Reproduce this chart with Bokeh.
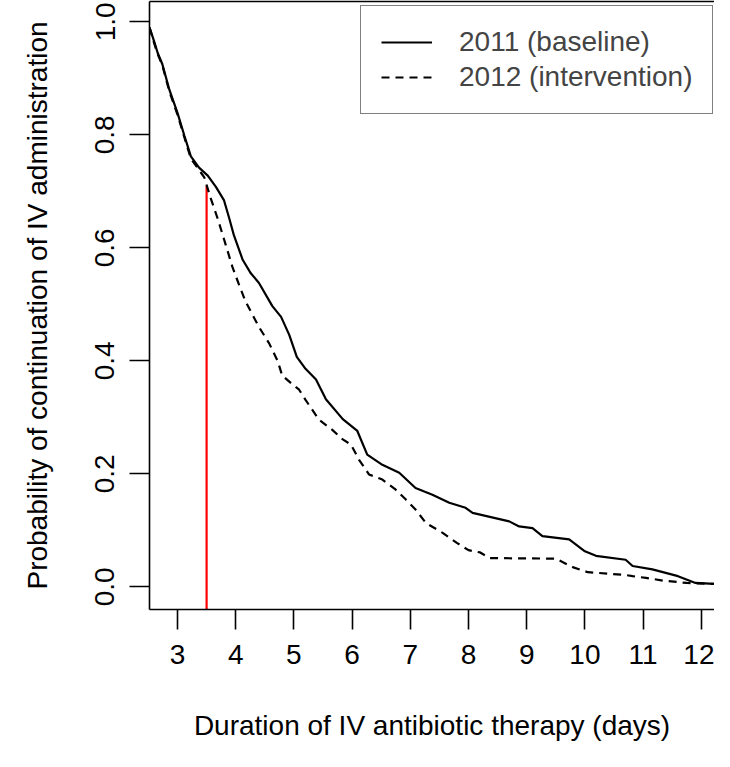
from bokeh.plotting import figure
from bokeh.models import (Range1d, FixedTicker, PrintfTickFormatter, LinearAxis,
                          Legend, LegendItem)
from bokeh.embed import file_html
from bokeh.resources import INLINE

# ---- data ----
t_2011 = [2.52, 2.60, 2.66, 2.74, 2.86, 3.00, 3.12, 3.23, 3.37, 3.52, 3.66, 3.80,
          3.89, 3.97, 4.12, 4.26, 4.40, 4.63, 4.78, 4.92, 5.05, 5.20, 5.38, 5.55,
          5.84, 6.09, 6.26, 6.52, 6.81, 7.09, 7.38, 7.67, 7.95, 8.07, 8.70, 8.87,
          9.10, 9.27, 9.73, 10.00, 10.19, 10.70, 10.82, 11.16, 11.60, 11.90, 12.30]
s_2011 = [0.990, 0.965, 0.945, 0.925, 0.880, 0.839, 0.798, 0.762, 0.742, 0.728, 0.708, 0.684,
          0.652, 0.622, 0.579, 0.555, 0.538, 0.497, 0.478, 0.446, 0.407, 0.386, 0.367, 0.332,
          0.297, 0.276, 0.234, 0.216, 0.202, 0.175, 0.163, 0.149, 0.140, 0.131, 0.116, 0.107,
          0.104, 0.090, 0.084, 0.063, 0.055, 0.048, 0.037, 0.031, 0.019, 0.007, 0.005]

t_2012 = [2.52, 2.60, 2.66, 2.74, 2.86, 3.00, 3.12, 3.23, 3.37, 3.46, 3.57, 3.69,
          3.83, 3.945, 4.06, 4.17, 4.40, 4.575, 4.72, 4.80, 4.98, 5.09, 5.20, 5.43,
          5.66, 5.84, 5.98, 6.12, 6.29, 6.52, 6.75, 6.92, 7.09, 7.27, 7.55, 7.80,
          8.00, 8.20, 8.36, 9.50, 9.79, 10.05, 10.19, 10.70, 10.82, 11.05, 11.35, 11.75, 12.30]
s_2012 = [0.990, 0.962, 0.943, 0.923, 0.877, 0.836, 0.795, 0.758, 0.738, 0.725, 0.688, 0.652,
          0.605, 0.566, 0.534, 0.505, 0.460, 0.431, 0.400, 0.374, 0.358, 0.349, 0.331, 0.296,
          0.278, 0.261, 0.252, 0.225, 0.199, 0.190, 0.172, 0.155, 0.137, 0.113, 0.096, 0.078,
          0.065, 0.061, 0.051, 0.050, 0.035, 0.026, 0.025, 0.021, 0.019, 0.016, 0.011, 0.007, 0.005]

marker_day = [3.5]
marker_top = [0.71]

x_ticks = [3, 4, 5, 6, 7, 8, 9, 10, 11, 12]
y_ticks = [0.0, 0.2, 0.4, 0.6, 0.8, 1.0]

series_labels = ["2011 (baseline)", "2012 (intervention)"]
x_title = "Duration of IV antibiotic therapy (days)"
y_title = "Probability of continuation of IV administration"

FONT = "Liberation Sans"
FS = "28px"

p = figure(width=714, height=751, output_backend="svg", toolbar_location=None,
           x_range=Range1d(2.519, 12.227), y_range=Range1d(-0.04, 1.0361),
           min_border_left=149, min_border_right=0, min_border_top=1,
           min_border_bottom=142)
p.outline_line_color = None
p.grid.grid_line_color = None

# red marker line
p.segment(x0=marker_day, y0=[-0.05], x1=marker_day, y1=marker_top,
          line_color="#ff0000", line_width=2.2)

r1 = p.line(t_2011, s_2011, line_color="black", line_width=2.2)
r2 = p.line(t_2012, s_2012, line_color="black", line_width=2.2, line_dash="8 6")

for ax in (p.xaxis[0], p.yaxis[0]):
    ax.minor_tick_line_color = None
    ax.major_tick_out = 20
    ax.major_tick_in = 0
    ax.axis_line_width = 1.6
    ax.major_tick_line_width = 1.6
    ax.axis_line_color = "black"
    ax.major_tick_line_color = "black"
    ax.major_label_text_font = FONT
    ax.major_label_text_font_size = FS
    ax.major_label_text_color = "black"
    ax.axis_label_text_font = FONT
    ax.axis_label_text_font_size = FS
    ax.axis_label_text_font_style = "normal"
    ax.axis_label_text_color = "black"

p.xaxis.ticker = FixedTicker(ticks=x_ticks)
p.xaxis.axis_label = x_title
p.xaxis.major_label_standoff = 15
p.xaxis.axis_label_standoff = 43

p.yaxis.ticker = FixedTicker(ticks=y_ticks)
p.yaxis.formatter = PrintfTickFormatter(format="%.1f")
p.yaxis.major_label_orientation = "vertical"
p.yaxis.axis_label = y_title
p.yaxis.major_label_standoff = 15
p.yaxis.axis_label_standoff = 40

top = LinearAxis(ticker=FixedTicker(ticks=[]), major_tick_out=0, major_tick_in=0,
                 minor_tick_out=0, minor_tick_in=0, major_label_standoff=0,
                 axis_label_standoff=0, axis_line_width=1.6, axis_line_color="black")
p.add_layout(top, "above")

legend = Legend(items=[LegendItem(label=series_labels[0], renderers=[r1]),
                       LegendItem(label=series_labels[1], renderers=[r2])],
                location=(211, 495), padding=20, spacing=3, margin=0,
                glyph_width=51, glyph_height=28, label_height=28, label_standoff=27,
                label_text_font=FONT, label_text_font_size=FS,
                border_line_color="black", border_line_width=1.6,
                background_fill_color="white", background_fill_alpha=1.0)
p.add_layout(legend)

open("out.html", "w").write(file_html(p, INLINE))
